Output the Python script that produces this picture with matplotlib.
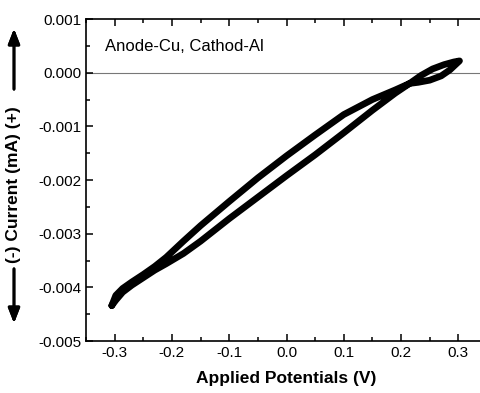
import numpy as np
import matplotlib
matplotlib.use("Agg")
import matplotlib.pyplot as plt
from matplotlib.ticker import MultipleLocator, FuncFormatter

plt.rcParams['font.family'] = ['Liberation Sans', 'DejaVu Sans']
plt.rcParams['axes.unicode_minus'] = False

# forward scan (lower branch), -0.3 V -> 0.3 V
fwd_v = [-0.305, -0.298, -0.286, -0.27, -0.25, -0.23, -0.21, -0.18, -0.15, -0.10,
         -0.05, 0.00, 0.05, 0.10, 0.15, 0.19, 0.215, 0.235, 0.255, 0.275, 0.292, 0.302]
fwd_i = [-0.00434, -0.00424, -0.00409, -0.00396, -0.00382, -0.00368, -0.00356,
         -0.00337, -0.00314, -0.00272, -0.00232, -0.00192, -0.00153, -0.00112,
         -0.00070, -0.00038, -0.0002, -0.00005, 0.00007, 0.00015, 0.0002, 0.00022]
# reverse scan (upper branch), 0.3 V -> -0.3 V
rev_v = [0.302, 0.296, 0.285, 0.27, 0.25, 0.23, 0.215, 0.19, 0.15, 0.10, 0.05,
         0.00, -0.05, -0.10, -0.15, -0.18, -0.21, -0.23, -0.25, -0.27, -0.286,
         -0.298, -0.305]
rev_i = [0.00022, 0.00016, 0.00005, -0.00006, -0.00014, -0.00018, -0.0002,
         -0.00032, -0.0005, -0.00078, -0.00116, -0.00155, -0.00196, -0.0024,
         -0.00285, -0.00314, -0.00344, -0.00361, -0.00376, -0.0039, -0.00402,
         -0.00415, -0.00434]

fig = plt.figure(figsize=(4.81, 3.93), dpi=100)
ax = fig.add_axes([0.1788, 0.1323, 0.8337, 0.8193])

ax.axhline(0, color='#777777', lw=0.8, zorder=1)
ax.plot(fwd_v + rev_v, fwd_i + rev_i, color='black', lw=4.8,
        solid_joinstyle='round', solid_capstyle='round', zorder=2)

ax.set_xlim(-0.35, 0.35)
ax.set_ylim(-0.005, 0.001)
ax.xaxis.set_major_locator(MultipleLocator(0.1))
ax.xaxis.set_minor_locator(MultipleLocator(0.05))
ax.yaxis.set_major_locator(MultipleLocator(0.001))
ax.yaxis.set_minor_locator(MultipleLocator(0.0005))
ax.xaxis.set_major_formatter(FuncFormatter(lambda v, p: f"{v:.1f}".replace("-0.0", "0.0")))
ax.yaxis.set_major_formatter(FuncFormatter(lambda v, p: f"{v:.3f}".replace("-0.000", "0.000")))
ax.tick_params(which='both', direction='in', top=True, right=True, labelsize=11, width=1.1)
ax.tick_params(which='major', length=5)
ax.tick_params(which='minor', length=3)
for s in ax.spines.values():
    s.set_linewidth(1.2)

ax.text(0.048, 0.915, "Anode-Cu, Cathod-Al", transform=ax.transAxes,
        fontsize=12, ha='left', va='center')
ax.set_xlabel("Applied Potentials (V)", fontsize=12.5, fontweight='bold', labelpad=8)

# y label with arrows, placed in figure pixels
W, H = 481, 393
fig.text(14 / W, 1 - 185 / H, "(-) Current (mA) (+)", rotation=90, fontsize=12.5,
         fontweight='bold', ha='center', va='center')
arrow = dict(arrowstyle='-|>,head_length=0.9,head_width=0.35', color='black', lw=2)
fig.add_artist(plt.annotate('', xy=(14 / W, 1 - 26 / H), xytext=(14 / W, 1 - 92 / H),
                            xycoords='figure fraction', arrowprops=arrow))
fig.add_artist(plt.annotate('', xy=(14 / W, 1 - 326 / H), xytext=(14 / W, 1 - 266 / H),
                            xycoords='figure fraction', arrowprops=arrow))

fig.savefig("out.png", dpi=100)
